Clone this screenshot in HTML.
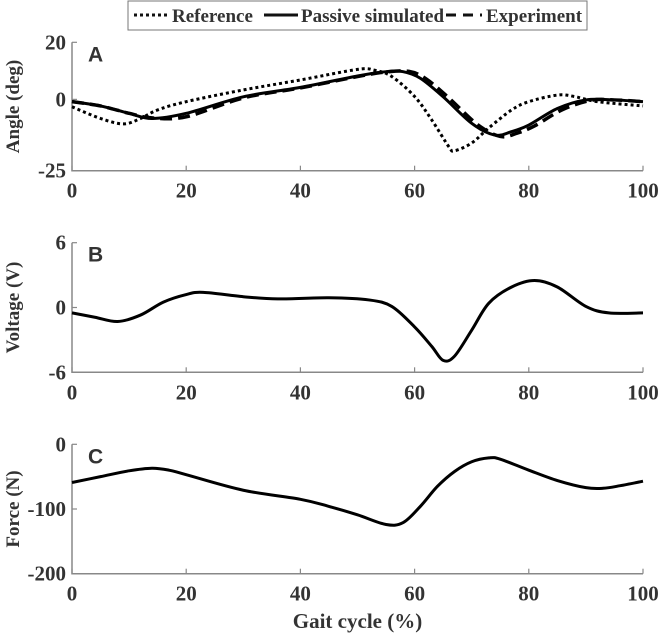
<!DOCTYPE html>
<html><head><meta charset="utf-8"><style>
body{margin:0;background:#fff;}
svg text{font-family:"Liberation Serif",serif;font-weight:bold;fill:#333;}
</style></head><body>
<svg id="chart" width="662" height="637" xmlns="http://www.w3.org/2000/svg">
<g id="legend">
<rect x="128" y="1" width="459" height="29" fill="#fff" stroke="#777" stroke-width="1"/>
<line x1="134" y1="15" x2="169" y2="15" stroke="#111" stroke-width="3" stroke-dasharray="3,3"/>
<text x="172" y="22" font-size="19" fill="#111">Reference</text>
<line x1="264" y1="15" x2="298" y2="15" stroke="#111" stroke-width="3"/>
<text x="301" y="22" font-size="19" fill="#111">Passive simulated</text>
<line x1="446" y1="15" x2="482" y2="15" stroke="#111" stroke-width="3" stroke-dasharray="10,7"/>
<text x="486" y="22" font-size="19" fill="#111">Experiment</text>
</g>
</svg>
<script>
const xs=[0,5,9,12,15,20,30,40,50,53,56,60,63,66,67,70,73,77,80,85,88,92,100];
const refVals=[-2.6,-6.7,-8.6,-6.7,-3.7,-0.8,3.3,6.8,10.5,10.2,8,1,-7.2,-16.6,-18,-15.3,-10,-3.7,-0.8,1.5,1,-0.8,-2.3];
const simX=[0,5,10,14,20,30,40,50,55,58,61,65,70,74,77,80,85,90,95,100];
const simVals=[-0.8,-2.3,-4.9,-6.7,-4.9,0.9,4.2,8.2,9.7,9.7,7.4,0.9,-8.4,-12.5,-11.3,-9,-3.2,-0.2,-0.2,-0.8];
const expX=[0,5,10,14,20,30,40,50,55,59,62,66,71,75,78,81,86,91,95,100];
const expVals=[-0.8,-2.3,-4.9,-6.5,-6.1,0.5,4.0,8.0,9.6,9.8,7.2,0.5,-8.8,-13,-11.8,-9.3,-3.5,-0.3,-0.2,-0.8];
const voltX=[0,4,8,12,16,20,23,30,36,45,52,56,60,63,65,67,70,73,77,81,85,90,94,100];
const voltVals=[-0.5,-0.9,-1.3,-0.7,0.5,1.2,1.4,1.0,0.8,0.9,0.7,0.1,-1.8,-3.6,-4.9,-4.5,-2.1,0.4,1.9,2.5,1.9,0.1,-0.5,-0.5];
const forceX=[0,5,10,14,17,20,30,40,45,50,55,58,61,64,67,70,73,75,80,85,90,93,96,100];
const forceVals=[-59,-50,-41,-37,-40,-47,-71,-85,-96,-109,-124,-121,-96,-65,-42,-27,-21,-23,-40,-56,-67,-68,-64,-57];
const xTicks=[0,20,40,60,80,100];
const panels=[
 {name:'angle',letter:'A',title:'Angle (deg)',top:42.3,bot:170.7,min:-25,max:20,ticks:[20,0,-25]},
 {name:'voltage',letter:'B',title:'Voltage (V)',top:242.7,bot:372.3,min:-6,max:6,ticks:[6,0,-6]},
 {name:'force',letter:'C',title:'Force (N)',top:444.3,bot:573.7,min:-200,max:0,ticks:[0,-100,-200]}
];
const svg=document.getElementById('chart');
const NS='http://www.w3.org/2000/svg';
const X0=72,X1=643;
function sx(v){return X0+(v/100)*(X1-X0);}
function mk(tag,attrs,parent){const e=document.createElementNS(NS,tag);for(const k in attrs)e.setAttribute(k,attrs[k]);(parent||svg).appendChild(e);return e;}
function smooth(pts){let d='M'+pts[0][0]+','+pts[0][1];for(let i=0;i<pts.length-1;i++){const p0=pts[i-1]||pts[i],p1=pts[i],p2=pts[i+1],p3=pts[i+2]||p2;const c1=[p1[0]+(p2[0]-p0[0])/6,p1[1]+(p2[1]-p0[1])/6],c2=[p2[0]-(p3[0]-p1[0])/6,p2[1]-(p3[1]-p1[1])/6];d+=' C'+c1[0]+','+c1[1]+' '+c2[0]+','+c2[1]+' '+p2[0]+','+p2[1];}return d;}
panels.forEach(p=>{
 const sy=v=>p.bot-(v-p.min)/(p.max-p.min)*(p.bot-p.top);
 p.sy=sy;
 const g=mk('g',{});
 
 
 const ax=mk('path',{d:`M${X0},${p.top} V${p.bot} H${X1}`,fill:'none',stroke:'#888','stroke-width':1.5},g);
 
 
 p.ticks.forEach(t=>{
  mk('line',{x1:X0,x2:X0+5,y1:sy(t),y2:sy(t),stroke:'#888','stroke-width':1.2},g);
  const tx=mk('text',{x:X0-6,y:sy(t)+7,'font-size':21,'text-anchor':'end'},g);
  tx.textContent=t;
  
  
 });
 xTicks.forEach(t=>{
  mk('line',{x1:sx(t),x2:sx(t),y1:p.bot,y2:p.bot-5,stroke:'#888','stroke-width':1.2},g);
  const tx=mk('text',{x:sx(t),y:p.bot+27,'font-size':21,'text-anchor':'middle'},g);
  tx.textContent=t;
  
  
 });
 const yt=mk('text',{x:0,y:0,'font-size':19,'text-anchor':'middle',transform:`translate(19,${(p.top+p.bot)/2}) rotate(-90)`,fill:'#111'},g);
 yt.textContent=p.title;
 
 
 const lt=mk('text',{x:88,y:p.top+19,'font-size':21,style:'font-family:"Liberation Sans",sans-serif;font-weight:bold',fill:'#000'},g);
 lt.textContent=p.letter;
 
 
});
function line(xv,yv,p,dash,w,name){
 const pts=xv.map((x,i)=>[sx(x),p.sy(yv[i])]);
 const e=mk('path',{d:smooth(pts),fill:'none',stroke:'#000','stroke-width':w,'stroke-dasharray':dash||'none','stroke-linecap':'butt'});
 
 
}
line(expX,expVals,panels[0],'12,6',3.5,'experiment-line');
line(simX,simVals,panels[0],null,3,'passive-simulated-line');
line(xs,refVals,panels[0],'3,3',3,'reference-line');
line(voltX,voltVals,panels[1],null,3,'voltage-line');
line(forceX,forceVals,panels[2],null,3,'force-line');
const xt=mk('text',{x:(X0+X1)/2,y:628,'font-size':21,'text-anchor':'middle'});
xt.textContent='Gait cycle (%)';


</script>
</body></html>
